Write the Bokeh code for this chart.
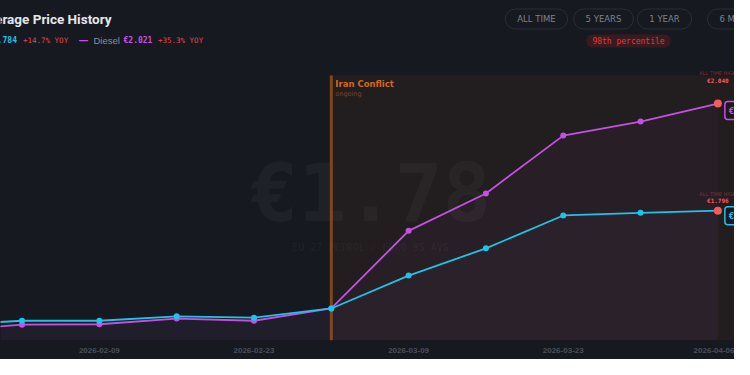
import pandas as pd
from bokeh.plotting import figure
from bokeh.layouts import column
from bokeh.models import Range1d, Label, BoxAnnotation, FixedTicker, DatetimeTickFormatter
from bokeh.embed import file_html
from bokeh.resources import INLINE

# ---------------- data ----------------
dates = ["2026-01-26", "2026-02-02", "2026-02-09", "2026-02-16", "2026-02-23",
         "2026-03-02", "2026-03-09", "2026-03-16", "2026-03-23", "2026-03-30", "2026-04-06"]
petrol = [1.535, 1.545, 1.545, 1.555, 1.552, 1.573, 1.648, 1.710, 1.785, 1.791, 1.796]
diesel = [1.522, 1.536, 1.537, 1.550, 1.545, 1.573, 1.750, 1.835, 1.967, 1.999, 2.040]
tick_dates = ["2026-02-09", "2026-02-23", "2026-03-09", "2026-03-23", "2026-04-06"]

conflict_start = "2026-03-02"
conflict_label = "Iran Conflict"
conflict_status = "ongoing"

petrol_current = "€1.784"
petrol_yoy = "+14.7% YOY"
diesel_name = "Diesel"
diesel_current = "€2.021"
diesel_yoy = "+35.3% YOY"

ath_date = "2026-04-06"
petrol_ath = 1.796
diesel_ath = 2.040
petrol_ath_text = "€1.796"
diesel_ath_text = "€2.040"

watermark = "€1.78"
watermark_sub = "EU 27 PETROL / EURO 95 AVG"
buttons = ["ALL TIME", "5 YEARS", "1 YEAR", "6 MONTHS"]
percentile = "98th percentile"
title = "Average Price History"

x_start, x_end = "2026-01-31 01:13", "2026-04-07 12:09"
y_min, y_max, shade_top = 1.50, 2.120, 2.104

# ---------------- styles ----------------
BG = "#161920"
CYAN = "#1fc3e8"
MAGENTA = "#c64fe4"
RED = "#e2474b"
ATH_RED = "#f45c5c"
ORANGE = "#d2691e"
MONO = "DejaVu Sans Mono"
SANS = "DejaVu Sans"

x = pd.to_datetime(dates)
x_ath = pd.Timestamp(ath_date)
x_conf = pd.Timestamp(conflict_start)

W = 734
HEADER_H = 68

# ================= header =================
h = figure(width=W, height=HEADER_H, x_range=Range1d(0, W), y_range=Range1d(HEADER_H, 0),
           x_axis_location=None, y_axis_location=None, min_border=0,
           output_backend="svg", toolbar_location=None)
h.background_fill_color = BG
h.border_fill_color = BG
h.outline_line_color = None
h.grid.visible = False
h.styles = {"background-color": BG}

h.add_layout(Label(x=111, y=18, text=title, text_align="right", text_baseline="middle",
                   text_font="Roboto", text_font_style="bold", text_font_size="13.5px",
                   text_color="#e6e7ea"))

legend_items = [
    (16.5, petrol_current, CYAN, MONO, "bold", "8px", "right"),
    (22.5, petrol_yoy, RED, MONO, "normal", "7.5px", "left"),
    (78, "—", MAGENTA, SANS, "bold", "10px", "left"),
    (93, diesel_name, "#8a8f99", "Liberation Sans", "normal", "9.5px", "left"),
    (123, diesel_current, MAGENTA, MONO, "bold", "8px", "left"),
    (157.5, diesel_yoy, RED, MONO, "normal", "7.5px", "left"),
]
for lx, txt, col, fnt, sty, sz, al in legend_items:
    h.add_layout(Label(x=lx, y=40, text=txt, text_align=al, text_baseline="middle",
                       text_font=fnt, text_font_style=sty, text_font_size=sz, text_color=col))

btn_x = [536, 603, 664, 707]
btn_align = ["center", "center", "center", "left"]
for bx, txt, al in zip(btn_x, buttons, btn_align):
    h.add_layout(Label(x=bx, y=18.5, text=txt, text_align=al, text_baseline="middle",
                       text_font=SANS, text_font_size="8.5px", text_color="#7d828c",
                       border_line_color="#2a2e36", border_line_width=1,
                       background_fill_color=BG, border_radius=10, padding=(12, 5)))

h.add_layout(Label(x=628, y=40.5, text=percentile, text_align="center", text_baseline="middle",
                   text_font=MONO, text_font_size="8px", text_color="#e03c3c",
                   background_fill_color="#3a1a1f", border_radius=6, padding=(6, 2)))

# ================= main chart =================
p = figure(width=W, height=359 - HEADER_H, x_axis_type="datetime", y_axis_location=None,
           x_range=Range1d(pd.Timestamp(x_start), pd.Timestamp(x_end)),
           y_range=Range1d(y_min, y_max),
           min_border_left=0, min_border_right=0, min_border_top=0, min_border_bottom=19,
           output_backend="svg", toolbar_location=None)
p.background_fill_color = BG
p.border_fill_color = BG
p.outline_line_color = None
p.grid.visible = False
p.styles = {"background-color": BG}

ax = p.xaxis[0]
ax.ticker = FixedTicker(ticks=[pd.Timestamp(d).value / 1e6 for d in tick_dates])
ax.formatter = DatetimeTickFormatter(days="%Y-%m-%d", months="%Y-%m-%d", hours="%Y-%m-%d")
ax.axis_line_color = None
ax.major_tick_line_color = None
ax.minor_tick_line_color = None
ax.major_tick_out = 0
ax.major_tick_in = 0
ax.major_label_text_color = "#4b4f58"
ax.major_label_text_font = "Liberation Sans"
ax.major_label_text_font_style = "bold"
ax.major_label_text_font_size = "8px"
ax.major_label_standoff = 7

# conflict region
p.add_layout(BoxAnnotation(left=x_conf, top=shade_top, fill_color="#f97316", fill_alpha=0.055,
                           line_color=None, level="underlay"))

# watermark
p.add_layout(Label(x=370, y=125, x_units="canvas", y_units="canvas", text=watermark,
                   text_align="center", text_baseline="middle", text_font=MONO,
                   text_font_style="bold", text_font_size="80px", text_color="white",
                   text_alpha=0.035, level="underlay"))
p.add_layout(Label(x=370, y=179, x_units="canvas", y_units="canvas", text=watermark_sub,
                   text_align="center", text_baseline="middle", text_font=MONO,
                   text_font_style="bold", text_font_size="10px", text_color="white",
                   text_alpha=0.04, level="underlay"))

# conflict start line
p.segment(x0=[x_conf], y0=[y_min], x1=[x_conf], y1=[shade_top],
          line_color="#c2621a", line_alpha=0.6, line_width=3)

# areas
p.varea(x=x, y1=y_min, y2=diesel, fill_color=MAGENTA, fill_alpha=0.04)
p.varea(x=x, y1=y_min, y2=petrol, fill_color="#9aa8c8", fill_alpha=0.025)

# lines + markers
p.line(x, diesel, line_color=MAGENTA, line_width=1.8)
p.scatter(x, diesel, size=6, fill_color=MAGENTA, line_color=None)
p.line(x, petrol, line_color=CYAN, line_width=1.8)
p.scatter(x, petrol, size=6, fill_color=CYAN, line_color=None)

# ATH markers
p.scatter([x_ath, x_ath], [diesel_ath, petrol_ath], size=8, fill_color=ATH_RED, line_color=None)

for val, txt, off_hi, off_val in [(diesel_ath, diesel_ath_text, 31, 23),
                                  (petrol_ath, petrol_ath_text, 17, 10)]:
    p.add_layout(Label(x=x_ath, y=val, y_offset=off_hi, text="ALL TIME HIGH", text_align="center",
                       text_baseline="middle", text_font=SANS, text_font_size="5px",
                       text_color="#7a3236"))
    p.add_layout(Label(x=x_ath, y=val, y_offset=off_val, text=txt, text_align="center",
                       text_baseline="middle", text_font=MONO, text_font_style="bold",
                       text_font_size="6px", text_color=ATH_RED))

# right-edge badges
for val, txt, col, off in [(diesel[-1], diesel_current, MAGENTA, -7), (petrol[-1], petrol_current, CYAN, -5)]:
    p.add_layout(Label(x=x_ath, y=val, x_offset=7, y_offset=off, text=txt, text_align="left",
                       text_baseline="middle", text_font=MONO, text_font_style="bold",
                       text_font_size="9px", text_color=col, background_fill_color="#1b1820",
                       border_line_color=col, border_line_width=1.5, border_radius=3, padding=4))

# conflict labels
p.add_layout(Label(x=x_conf, y=15, x_offset=4, y_units="canvas",
                   text=conflict_label, text_align="left", text_baseline="middle",
                   text_font=SANS, text_font_style="bold", text_font_size="8.5px", text_color=ORANGE))
p.add_layout(Label(x=x_conf, y=25, x_offset=4, y_units="canvas",
                   text=conflict_status, text_align="left", text_baseline="middle",
                   text_font=SANS, text_font_size="6.5px", text_color="#7e4520"))

layout = column(h, p, spacing=0)
layout.styles = {"background-color": BG}

open("out.html", "w").write(file_html(layout, INLINE))
